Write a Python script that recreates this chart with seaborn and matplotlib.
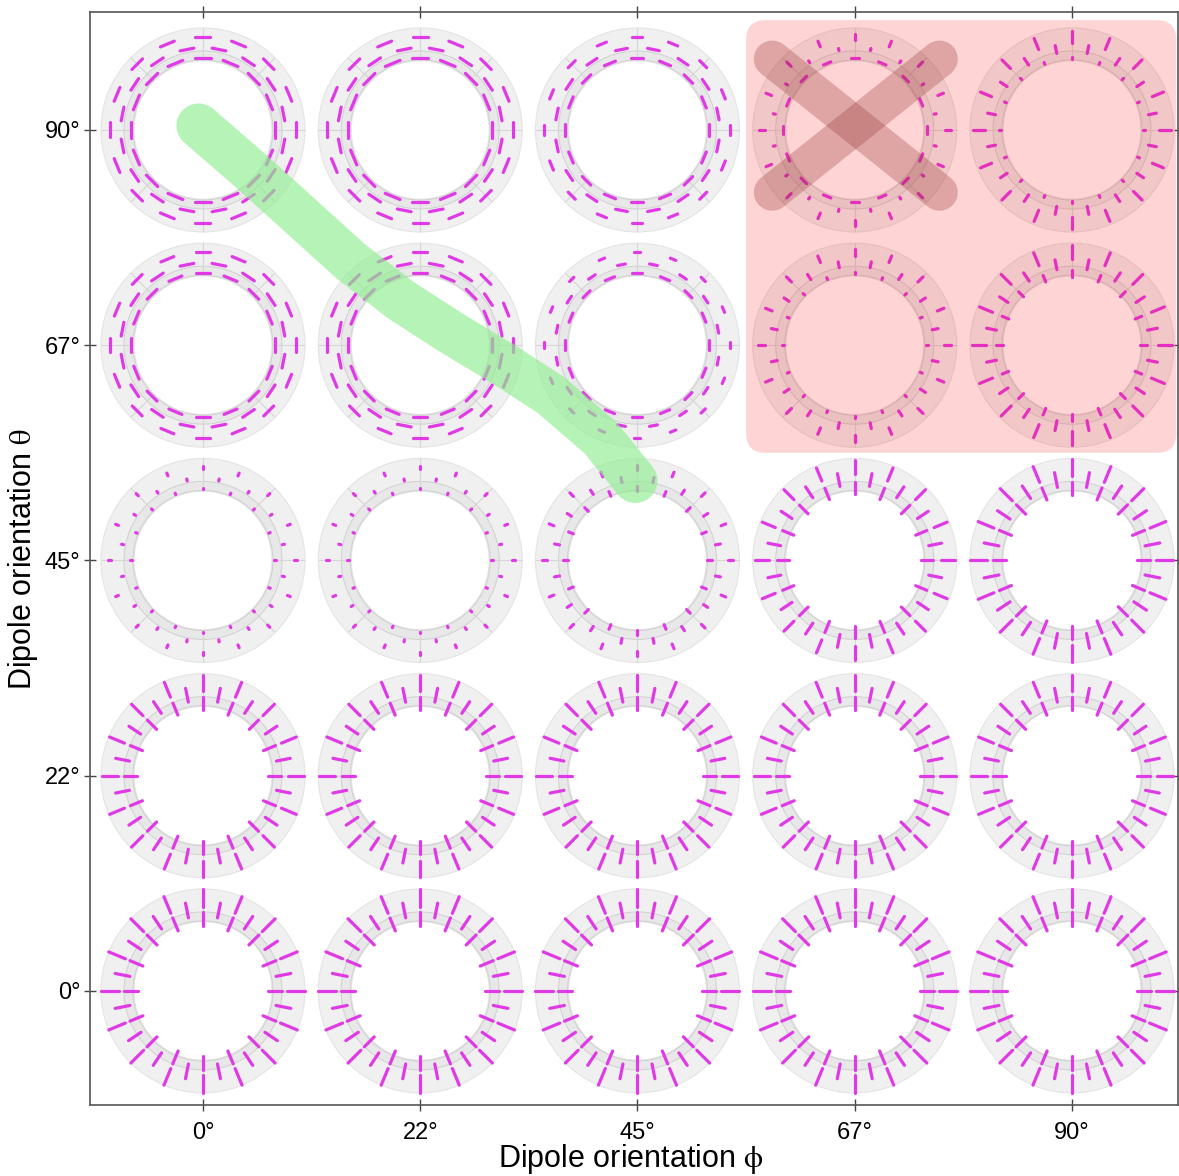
import numpy as np
import pandas as pd
import matplotlib
matplotlib.use("Agg")
import matplotlib.pyplot as plt
import seaborn as sns
from matplotlib.patches import Annulus, FancyBboxPatch
from matplotlib.collections import LineCollection

# ---- data ----
phi_labels = ["0°", "22°", "45°", "67°", "90°"]
theta_labels = ["0°", "22°", "45°", "67°", "90°"]

# signed segment length (px) per cell, rows = theta (0..90), cols = phi (0..90)
# positive = radial segment, negative = tangential segment
outer_len = [
    [18, 18, 18, 18, 18],
    [16, 16, 16, 16, 16],
    [3, 3, 5, 14, 17],
    [-14, -14, -6, 7, 14],
    [-15, -15, -10, 6, 12],
]
mid_len = [
    [15, 15, 15, 15, 15],
    [14, 14, 14, 14, 14],
    [2, 2, 5, 13, 15],
    [-14, -14, -8, 6, 10],
    [-14, -14, -12, 2, 8],
]
inner_len = [
    [14, 14, 14, 14, 14],
    [13, 13, 13, 13, 13],
    [1.5, 1.5, 5, 12, 13],
    [-14, -14, -10, 2, 7],
    [-16, -16, -12, -8, 2],
]

# highlighted path (green) and rejected block (red), in grid units
green_x = [-0.02, 0.22, 0.45, 0.68, 0.91, 1.14, 1.37, 1.60, 1.83, 1.99]
green_y = [4.02, 3.81, 3.60, 3.39, 3.21, 3.06, 2.92, 2.77, 2.57, 2.37]
cross_a = ([2.62, 3.39], [4.33, 3.71])
cross_b = ([3.39, 2.62], [4.33, 3.71])
box_x0, box_x1, box_y0, box_y1 = 2.50, 4.48, 2.50, 4.51

# ---- figure ----
sns.set_theme(style="ticks")
plt.rcParams["font.family"] = ["Liberation Sans", "DejaVu Sans"]
plt.rcParams["mathtext.fontset"] = "stix"

W, H = 1179, 1176
fig = plt.figure(figsize=(W / 100, H / 100), dpi=100)
ax = fig.add_axes([90 / W, 71 / H, 1088 / W, 1093 / H])
xlim = (-0.52, 4.488)
ylim = (-0.53, 4.548)
ax.set_xlim(*xlim)
ax.set_ylim(*ylim)

# pixels per grid unit, so rings stay round
kx = 1088 / (xlim[1] - xlim[0])
ky = 1093 / (ylim[1] - ylim[0])

R_OUT, R_IN = 102, 69
BAND_OUT, BAND_IN = 79, 70
ring_r = {"outer": 93, "mid": 82, "inner": 72}
ring_off = {"outer": 0.0, "mid": 11.25, "inner": 0.0}
ring_len = {"outer": outer_len, "mid": mid_len, "inner": inner_len}

grid_lines = []
for j in range(5):
    for i in range(5):
        ax.add_patch(Annulus((i, j), (R_OUT / kx, R_OUT / ky), (R_OUT - R_IN) / kx,
                             facecolor="#f0f0f0", edgecolor="#e4e4e4", lw=0.8, zorder=1))
        ax.add_patch(Annulus((i, j), (BAND_OUT / kx, BAND_OUT / ky), (BAND_OUT - BAND_IN) / kx,
                             facecolor="#e8e8e8", edgecolor="#d0d0d0", lw=0.7, zorder=1.2))
        for a in np.deg2rad(np.arange(0, 360, 45)):
            grid_lines.append([(i + R_IN * np.cos(a) / kx, j + R_IN * np.sin(a) / ky),
                               (i + R_OUT * np.cos(a) / kx, j + R_OUT * np.sin(a) / ky)])
ax.add_collection(LineCollection(grid_lines, colors="#d6d6d6", linewidths=0.8, zorder=1.4))

# build the segment table
rows = []
seg = 0
for j in range(5):
    for i in range(5):
        for ring in ("outer", "mid", "inner"):
            L = ring_len[ring][j][i]
            r = ring_r[ring]
            for a in np.deg2rad(np.arange(16) * 22.5 + ring_off[ring]):
                c, s = np.cos(a), np.sin(a)
                d = (c, s) if L > 0 else (-s, c)
                h = abs(L) / 2
                for sign in (-1, 1):
                    rows.append({"seg": seg,
                                 "x": i + (r * c + sign * h * d[0]) / kx,
                                 "y": j + (r * s + sign * h * d[1]) / ky})
                seg += 1
df = pd.DataFrame(rows)

sns.lineplot(data=df, x="x", y="y", units="seg", estimator=None, sort=False,
             color="#e03ae6", lw=2.3, solid_capstyle="round", legend=False,
             ax=ax, zorder=2)

# red rejected region
ax.add_patch(FancyBboxPatch((box_x0, box_y0), box_x1 - box_x0, box_y1 - box_y0,
                            boxstyle="round,pad=0,rounding_size=0.09",
                            facecolor="red", alpha=0.17, edgecolor="none", zorder=3))
for cx, cy in (cross_a, cross_b):
    ax.plot(cx, cy, color="#8c2828", alpha=0.27, lw=26.5,
            solid_capstyle="round", zorder=4)

# green path
ax.plot(green_x, green_y, color="#90ee90", alpha=0.65, lw=32,
        solid_capstyle="round", solid_joinstyle="round", zorder=4)

ax.set_xticks(range(5))
ax.set_xticklabels(phi_labels)
ax.set_yticks(range(5))
ax.set_yticklabels(theta_labels)
ax.tick_params(direction="inout", length=8, width=1, color="#444444",
               labelsize=17, labelcolor="black", top=True, right=True)
ax.tick_params(axis="x", pad=8)
ax.tick_params(axis="y", pad=3)
for sp in ax.spines.values():
    sp.set_color("#555555")
    sp.set_linewidth(1.2)

ax.set_xlabel(r"Dipole orientation $\mathrm{\phi}$", fontsize=22, color="black")
ax.set_ylabel(r"Dipole orientation $\mathrm{\theta}$", fontsize=22, color="black")
ax.xaxis.set_label_coords(0.497, -0.034)
ax.yaxis.set_label_coords(-0.046, 0.5)

fig.savefig("out.png", dpi=100)
